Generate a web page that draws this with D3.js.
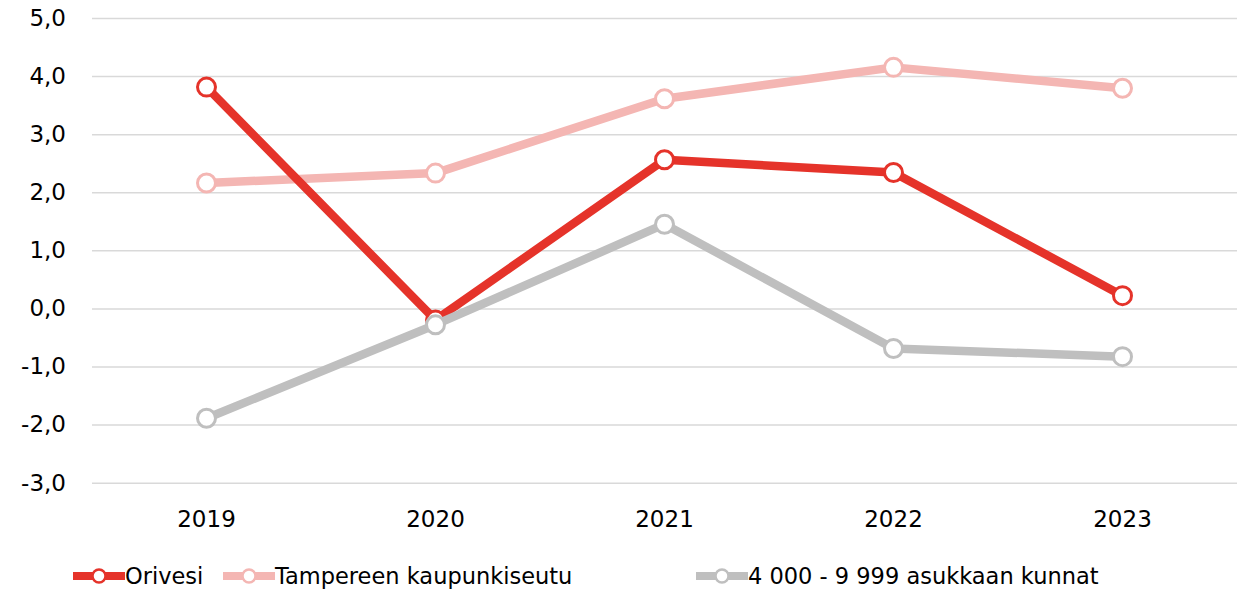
<!DOCTYPE html>
<html><head><meta charset="utf-8">
<script src="https://cdn.jsdelivr.net/npm/d3@7"></script>
<style>body{margin:0;background:#fff}svg{display:block}</style>
</head><body>
<svg id="c" width="1251" height="591"></svg>
<script>
const years = ["2019","2020","2021","2022","2023"];
const seriesNames = ["Orivesi","Tampereen kaupunkiseutu","4 000 - 9 999 asukkaan kunnat"];
const orivesi = [3.81, -0.2, 2.56, 2.34, 0.22];
const tampere = [2.16, 2.33, 3.61, 4.15, 3.79];
const kunnat = [-1.89, -0.28, 1.45, -0.69, -0.83];
const yTicks = [-3,-2,-1,0,1,2,3,4,5];
const colors = ["#e5332a","#f4b6b3","#bfbfbf"];

(function(){
const svg = d3.select("#c");
const mLeft = 92, mRight = 1237, mTop = 18, mBottom = 482.7;
const x = d3.scaleBand().domain(years).range([mLeft, mRight]);
const y = d3.scaleLinear().domain([-3,5]).range([mBottom, mTop]);
const fmt = v => d3.format(".1f")(v).replace(".", ",").replace("−","-");
const tickFont = "'DejaVu Sans', sans-serif";

const yAxis = d3.axisLeft(y).tickValues(yTicks).tickSize(-(mRight-mLeft)).tickFormat(fmt);
const gy = svg.append("g").attr("transform",`translate(${mLeft},0)`).call(yAxis);
gy.select(".domain").remove();
gy.selectAll(".tick line").attr("stroke","#d9d9d9").attr("stroke-width",1.5);
gy.selectAll(".tick text").attr("x",-26).attr("font-family",tickFont)
  .attr("font-size",23).attr("fill","#000");

const xAxis = d3.axisBottom(x).tickSize(0).tickPadding(0);
const gx = svg.append("g").attr("transform",`translate(0,${mBottom})`).call(xAxis);
gx.select(".domain").remove();
gx.selectAll(".tick text").attr("y",44.3).attr("dy","0").attr("font-family",tickFont)
  .attr("font-size",23).attr("fill","#000");

const data = [tampere, orivesi, kunnat];
const cols = [colors[1], colors[0], colors[2]];
const line = d3.line().x((d,i)=>x(years[i])+x.bandwidth()/2).y(d=>y(d));
data.forEach((vals, k) => {
  const g = svg.append("g");
  g.append("path").datum(vals).attr("d",line).attr("fill","none")
    .attr("stroke",cols[k]).attr("stroke-width",8.5).attr("stroke-linejoin","round");
  g.selectAll("circle").data(vals).join("circle")
    .attr("cx",(d,i)=>x(years[i])+x.bandwidth()/2).attr("cy",d=>y(d)).attr("r",9)
    .attr("fill","#fff").attr("stroke",cols[k]).attr("stroke-width",3);
});

const legX = [73, 223, 696];
const ly = 576;
seriesNames.forEach((name,k)=>{
  const g = svg.append("g").attr("transform",`translate(${legX[k]},${ly})`);
  g.append("line").attr("x1",0).attr("x2",52).attr("y1",0).attr("y2",0)
    .attr("stroke",colors[k]).attr("stroke-width",8);
  g.append("circle").attr("cx",26).attr("cy",0).attr("r",6.5).attr("fill","#fff")
    .attr("stroke",colors[k]).attr("stroke-width",2.5);
  g.append("text").attr("x",52).attr("y",0).attr("dy","0.36em")
    .attr("font-family","'DejaVu Sans', sans-serif").attr("font-size",22.5).attr("fill","#000").text(name);
});
})();
</script>
</body></html>
